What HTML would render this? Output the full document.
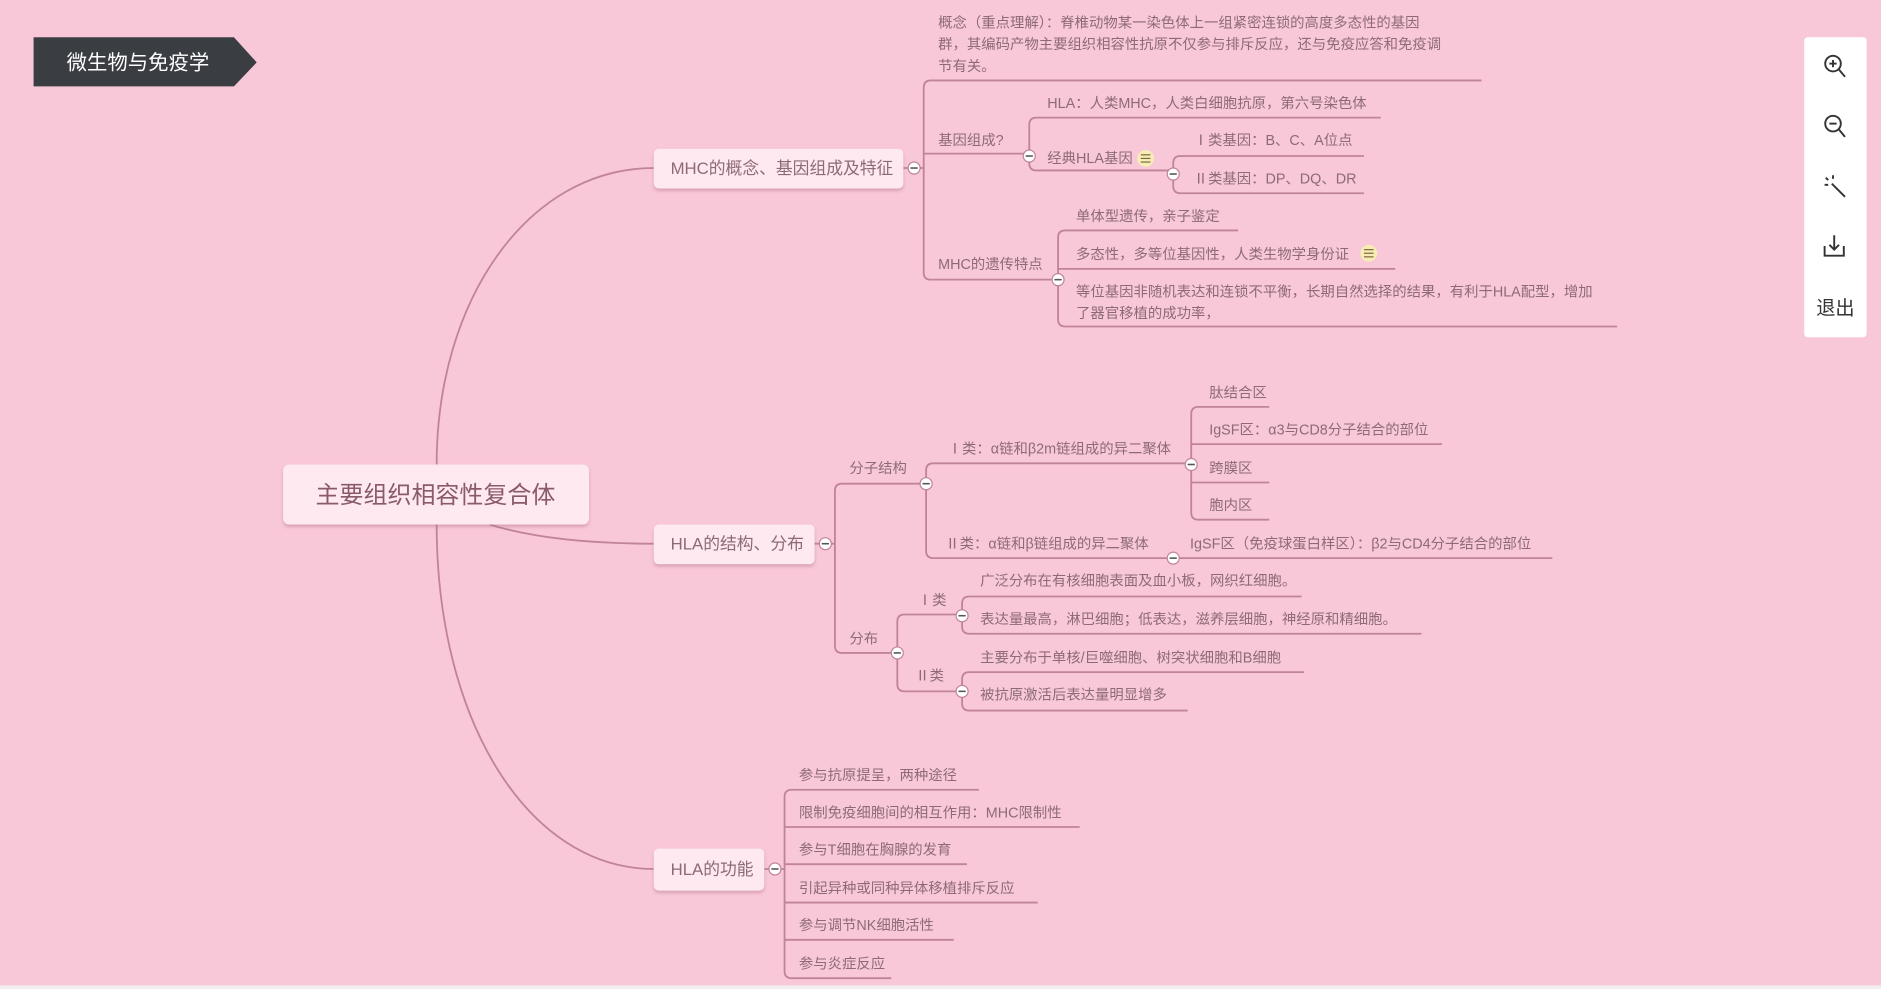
<!DOCTYPE html>
<html><head><meta charset="utf-8"><style>
html,body{margin:0;padding:0;background:#f8c8d8;overflow:hidden}
svg{display:block}
text{font-family:"Liberation Sans","Noto Sans CJK SC",sans-serif;fill:#8e6a77;font-size:12px}
</style></head><body>
<svg width="1881" height="989" viewBox="0 0 1568 824" preserveAspectRatio="none" xmlns="http://www.w3.org/2000/svg">
<rect x="0" y="0" width="1568" height="824" fill="#f8c8d8"/>
<rect x="0" y="821" width="1568" height="3" fill="#f3eef0"/>
<defs><filter id="sh" x="-10%" y="-20%" width="120%" height="150%"><feDropShadow dx="0" dy="2" stdDeviation="1.5" flood-color="#b07088" flood-opacity="0.45"/></filter></defs>
<!-- title -->
<polygon points="28,31 195,31 214,52 195,72 28,72" fill="#3a3e43"/>
<text x="115" y="58" text-anchor="middle" style="fill:#fff;font-size:17px">微生物与免疫学</text>
<!-- toolbar -->
<rect x="1504" y="31" width="52" height="250" rx="3" fill="#fff"/>
<g stroke="#333" stroke-width="1.6" fill="none">
<circle cx="1528" cy="53" r="6.5"/><line x1="1533" y1="58" x2="1538" y2="64"/><line x1="1525" y1="53" x2="1531" y2="53"/><line x1="1528" y1="50" x2="1528" y2="56"/>
<circle cx="1528" cy="103" r="6.5"/><line x1="1533" y1="108" x2="1538" y2="114"/><line x1="1525" y1="103" x2="1531" y2="103"/>
<line x1="1527" y1="153" x2="1538" y2="164"/><line x1="1522" y1="148" x2="1524" y2="150"/><line x1="1528" y1="146" x2="1528" y2="149"/><line x1="1521" y1="154" x2="1524" y2="154"/>
<path d="M1521,205 v8 h16 v-8"/><line x1="1529" y1="196" x2="1529" y2="208"/><path d="M1525,204 l4,4 4,-4"/>
</g>
<text x="1530" y="262" text-anchor="middle" style="fill:#333;font-size:16px">退出</text>
<!-- main curves -->
<g fill="none" stroke="#c08398" stroke-width="1.5">
<path d="M364,387 C364,250 440,140 545,140"/>
<path d="M364,437 C364,600 440,724 545,724"/>
<path d="M408,437 C450,450 500,453 545,453"/>
<line x1="753" y1="140" x2="770" y2="140"/>
<line x1="679" y1="453" x2="696" y2="453"/>
<line x1="637" y1="724" x2="654" y2="724"/>
<!-- brackets -->
<path d="M1235,67 H776 Q770,67 770,73 V227 Q770,233 776,233 H882"/>
<path d="M770,128 H858"/>
<path d="M1151,98 H864 Q858,98 858,104 V136 Q858,142 864,142 H978"/>
<path d="M1137,130 H984 Q978,130 978,136 V155 Q978,161 984,161 H1137"/>
<path d="M1032,192 H888 Q882,192 882,198 V266 Q882,272 888,272 H1348"/>
<path d="M882,224 H1163"/>
<path d="M772,403 H702 Q696,403 696,409 V538 Q696,544 702,544 H748"/>
<path d="M993,386 H778 Q772,386 772,392 V459 Q772,465 778,465 H1294"/>
<path d="M1058,339 H999 Q993,339 993,345 V427 Q993,433 999,433 H1058"/>
<path d="M993,370 H1202"/><path d="M993,402 H1058"/>
<path d="M802,512 H754 Q748,512 748,518 V570 Q748,576 754,576 H802"/>
<path d="M1085,497 H808 Q802,497 802,503 V522 Q802,528 808,528 H1185"/>
<path d="M1087,560 H808 Q802,560 802,566 V586 Q802,592 808,592 H990"/>
<path d="M816,658 H660 Q654,658 654,664 V809 Q654,815 660,815 H743"/>
<path d="M654,689 H900"/><path d="M654,720 H806"/><path d="M654,752 H865"/><path d="M654,783 H795"/>
</g>
<!-- nodes -->
<rect x="236" y="387" width="255" height="50" rx="5" fill="#fde9ef" filter="url(#sh)"/>
<text x="363" y="419" text-anchor="middle" style="font-size:20px;fill:#8a5a6c">主要组织相容性复合体</text>
<rect x="545" y="124" width="208" height="33" rx="4" fill="#fde9ef" filter="url(#sh)"/>
<text x="559" y="145" style="font-size:14px">MHC的概念、基因组成及特征</text>
<rect x="545" y="437" width="134" height="33" rx="4" fill="#fde9ef" filter="url(#sh)"/>
<text x="559" y="458" style="font-size:14px">HLA的结构、分布</text>
<rect x="545" y="707" width="92" height="35" rx="4" fill="#fde9ef" filter="url(#sh)"/>
<text x="559" y="729" style="font-size:14px">HLA的功能</text>
<!-- circles -->
<g fill="#fff" stroke="#c08398" stroke-width="1">
<circle cx="762" cy="140" r="5"/><circle cx="688" cy="453" r="5"/><circle cx="646" cy="724" r="5"/>
<circle cx="858" cy="130" r="5"/><circle cx="978" cy="145" r="5"/><circle cx="882" cy="233" r="5"/>
<circle cx="772" cy="403" r="5"/><circle cx="993" cy="387" r="5"/><circle cx="978" cy="465" r="5"/>
<circle cx="748" cy="544" r="5"/><circle cx="802" cy="513" r="5"/><circle cx="802" cy="576" r="5"/>
</g>
<g stroke="#555" stroke-width="1.3">
<line x1="759" y1="140" x2="765" y2="140"/><line x1="685" y1="453" x2="691" y2="453"/><line x1="643" y1="724" x2="649" y2="724"/>
<line x1="855" y1="130" x2="861" y2="130"/><line x1="975" y1="145" x2="981" y2="145"/><line x1="879" y1="233" x2="885" y2="233"/>
<line x1="769" y1="403" x2="775" y2="403"/><line x1="990" y1="387" x2="996" y2="387"/><line x1="975" y1="465" x2="981" y2="465"/>
<line x1="745" y1="544" x2="751" y2="544"/><line x1="799" y1="513" x2="805" y2="513"/><line x1="799" y1="576" x2="805" y2="576"/>
</g>
<!-- note icons -->
<circle cx="955" cy="132" r="7" fill="#f7ecb5"/><circle cx="1141" cy="211" r="7" fill="#f7ecb5"/>
<g stroke="#7a6a40" stroke-width="1"><line x1="951" y1="129" x2="959" y2="129"/><line x1="951" y1="132" x2="959" y2="132"/><line x1="951" y1="135" x2="959" y2="135"/>
<line x1="1137" y1="208" x2="1145" y2="208"/><line x1="1137" y1="211" x2="1145" y2="211"/><line x1="1137" y1="214" x2="1145" y2="214"/></g>
<!-- MHC texts -->
<text x="782" y="23">概念（重点理解）：脊椎动物某一染色体上一组紧密连锁的高度多态性的基因</text>
<text x="782" y="41">群，其编码产物主要组织相容性抗原不仅参与排斥反应，还与免疫应答和免疫调</text>
<text x="782" y="59">节有关。</text>
<text x="782" y="121">基因组成?</text>
<text x="873" y="90">HLA：人类MHC，人类白细胞抗原，第六号染色体</text>
<text x="873" y="136">经典HLA基因</text>
<text x="995" y="121">Ⅰ类基因：B、C、A位点</text>
<text x="995" y="153">Ⅱ类基因：DP、DQ、DR</text>
<text x="782" y="224">MHC的遗传特点</text>
<text x="897" y="184">单体型遗传，亲子鉴定</text>
<text x="897" y="216">多态性，多等位基因性，人类生物学身份证</text>
<text x="897" y="247">等位基因非随机表达和连锁不平衡，长期自然选择的结果，有利于HLA配型，增加</text>
<text x="897" y="265">了器官移植的成功率，</text>
<!-- HLA structure -->
<text x="708" y="394">分子结构</text>
<text x="790" y="378">Ⅰ类：α链和β2m链组成的异二聚体</text>
<text x="1008" y="331">肽结合区</text>
<text x="1008" y="362">IgSF区：α3与CD8分子结合的部位</text>
<text x="1008" y="394">跨膜区</text>
<text x="1008" y="425">胞内区</text>
<text x="788" y="457">Ⅱ类：α链和β链组成的异二聚体</text>
<text x="992" y="457">IgSF区（免疫球蛋白样区）：β2与CD4分子结合的部位</text>
<text x="708" y="536">分布</text>
<text x="765" y="504">Ⅰ类</text>
<text x="817" y="488">广泛分布在有核细胞表面及血小板，网织红细胞。</text>
<text x="817" y="520">表达量最高，淋巴细胞；低表达，滋养层细胞，神经原和精细胞。</text>
<text x="763" y="567">Ⅱ类</text>
<text x="817" y="552">主要分布于单核/巨噬细胞、树突状细胞和B细胞</text>
<text x="817" y="583">被抗原激活后表达量明显增多</text>
<!-- functions -->
<text x="666" y="650">参与抗原提呈，两种途径</text>
<text x="666" y="681">限制免疫细胞间的相互作用：MHC限制性</text>
<text x="666" y="712">参与T细胞在胸腺的发育</text>
<text x="666" y="744">引起异种或同种异体移植排斥反应</text>
<text x="666" y="775">参与调节NK细胞活性</text>
<text x="666" y="807">参与炎症反应</text>
</svg>
</body></html>
